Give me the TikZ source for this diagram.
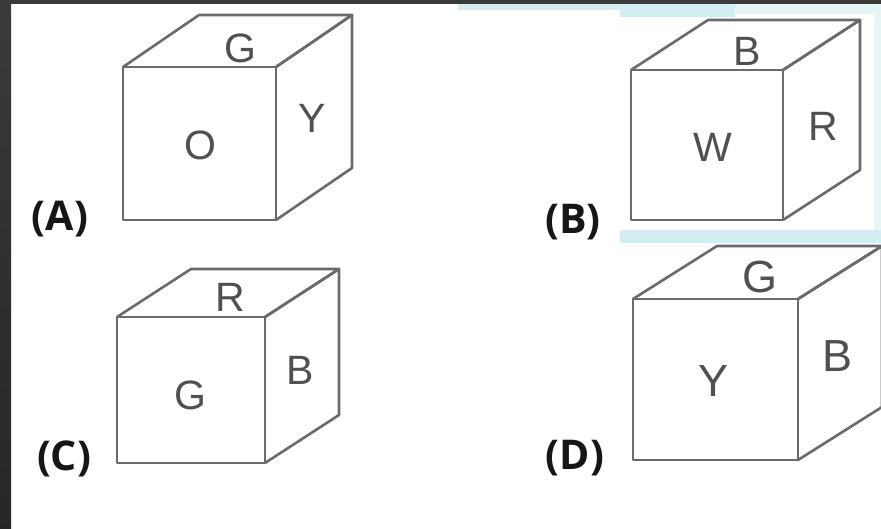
\documentclass[tikz,border=0pt]{standalone}
\usepackage{fontspec}
\setmainfont{Liberation Sans}
\newfontfamily\labfont{Open Sans}
\definecolor{edge}{HTML}{6A6A6A}
\definecolor{letter}{HTML}{505050}
\definecolor{labcol}{HTML}{161616}
\definecolor{paleblue}{HTML}{D3EDF1}
\definecolor{paleblueb}{HTML}{E6F4F6}
\definecolor{darkstrip}{HTML}{3A3A3A}
\tikzset{
  cubeline/.style={draw=edge, line width=2.6pt, line join=round},
  faceletter/.style={text=letter, inner sep=0pt, font=\fontsize{41}{43}\selectfont},
  bigletter/.style={text=letter, inner sep=0pt, font=\fontsize{45}{47}\selectfont},
  optlabel/.style={text=labcol, inner sep=0pt, font=\labfont\bfseries\fontsize{41}{44}\selectfont}
}
\begin{document}
\begin{tikzpicture}[x=1pt,y=-1pt]
\useasboundingbox (0,0) rectangle (881,529);
\clip (0,0) rectangle (881,529);
\fill[white] (0,0) rectangle (881,529);
% dark frame strips
\shade[top color=darkstrip, bottom color=black!85] (0,0) rectangle (11,529);
\fill[darkstrip] (0,0) rectangle (881,4);
% pale blue frame around (B)
\fill[paleblue] (458,4) rectangle (620,10);
\fill[paleblue] (620,4) rectangle (735,17);
\fill[paleblueb] (735,4) rectangle (881,14);
\fill[paleblueb] (874,14) rectangle (881,230);
\fill[paleblue] (620,230) rectangle (881,243);

% Cube A
\draw[cubeline] (123,67) rectangle (276,220);
\draw[cubeline] (123,67) -- (199,15) -- (352,15) -- (276,67);
\draw[cubeline] (276,67) -- (352,15) -- (352,168) -- (276,220);
\node[faceletter] (aTop) at (240,48) {G};
\node[faceletter] (aFront) at (200,145) {O};
\node[faceletter] (aSide) at (312,118) {Y};
\node[optlabel] (labA) at (60,219) {(A)};

% Cube B
\draw[cubeline] (631,70) rectangle (783,220);
\draw[cubeline] (631,70) -- (708,20) -- (860,20) -- (783,70);
\draw[cubeline] (783,70) -- (860,20) -- (860,170) -- (783,220);
\node[faceletter] (bTop) at (747,51) {B};
\node[faceletter] (bFront) at (713,147) {W};
\node[faceletter] (bSide) at (823,126) {R};
\node[optlabel] (labB) at (573,222) {(B)};

% Cube C
\draw[cubeline] (117,317) rectangle (265,463);
\draw[cubeline] (117,317) -- (191,269) -- (339,269) -- (265,317);
\draw[cubeline] (265,317) -- (339,269) -- (339,415) -- (265,463);
\node[faceletter] (cTop) at (230,297) {R};
\node[faceletter] (cFront) at (190,395) {G};
\node[faceletter] (cSide) at (300,370) {B};
\node[optlabel] (labC) at (64,459) {(C)};

% Cube D
\draw[cubeline] (633,299) rectangle (798,460);
\draw[cubeline] (633,299) -- (717,246) -- (882,246) -- (798,299);
\draw[cubeline] (798,299) -- (882,246) -- (882,407) -- (798,460);
\node[bigletter] (dTop) at (760,277) {G};
\node[bigletter] (dFront) at (713,381) {Y};
\node[bigletter] (dSide) at (837,356) {B};
\node[optlabel] (labD) at (575,458) {(D)};
\end{tikzpicture}
\end{document}
